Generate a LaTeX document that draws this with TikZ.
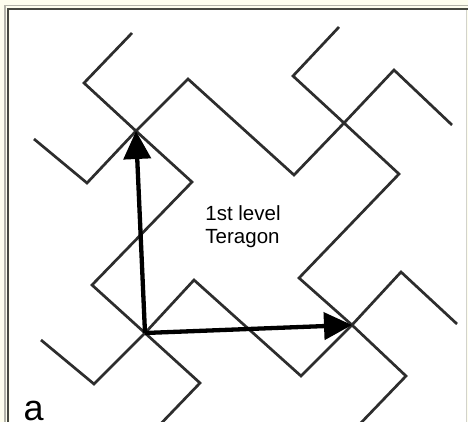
\documentclass[tikz,border=0pt]{standalone}
\usepackage{fontspec}
\setmainfont{Liberation Sans}
\usetikzlibrary{arrows.meta}
\definecolor{cream}{RGB}{254,254,238}
\definecolor{outerline}{RGB}{180,180,170}
\definecolor{innerline}{RGB}{70,72,64}
\definecolor{curve}{RGB}{45,45,45}
\tikzset{
  curveline/.style={draw=curve, line width=2.7pt, line join=miter},
  vecarrow/.style={line width=4.3pt, -{Triangle[length=28pt,width=27pt]}},
  lbl/.style={inner sep=0pt, anchor=base, font=\fontsize{20.5}{23}\selectfont},
}
\begin{document}
\begin{tikzpicture}[x=1pt,y=-1pt]
\useasboundingbox (0,0) rectangle (468,422);
% frame
\fill[cream] (0,0) rectangle (468,422);
\fill[white] (9.5,10) rectangle (465.5,422);
\draw[outerline, line width=1.4pt] (4.8,422) -- (4.8,5.6) -- (468,5.6);
\draw[innerline, line width=1.5pt] (8.2,422) -- (8.2,9.1) -- (468,9.1);
\draw[outerline!60, line width=0.8pt] (466,10) -- (466,422);
\begin{scope}
\clip (9.5,10) rectangle (465.5,422);
% lattice points
\coordinate (c1) at (136,131);
\coordinate (c2) at (344,123);
\coordinate (c3) at (145,333);
\coordinate (c4) at (352,325);
\coordinate (a1) at (132,33);
\coordinate (a2) at (84,83);
\coordinate (a3) at (192,182);
\coordinate (a4) at (92,285);
\coordinate (a5) at (200,383);
\coordinate (a6) at (150,435);
\coordinate (b1) at (34,139);
\coordinate (b2) at (87,183);
\coordinate (b3) at (188,79);
\coordinate (b4) at (294,175);
\coordinate (b5) at (394,70);
\coordinate (b6) at (452,125);
\coordinate (d1) at (339,27);
\coordinate (d2) at (293,76);
\coordinate (d3) at (399,174);
\coordinate (d4) at (299,278);
\coordinate (d5) at (406,376);
\coordinate (d6) at (356,428);
\coordinate (e1) at (41,340);
\coordinate (e2) at (94,384);
\coordinate (e3) at (194,280);
\coordinate (e4) at (301,376);
\coordinate (e5) at (401,272);
\coordinate (e6) at (457,324);
\draw[curveline] (a1) -- (a2) -- (c1) -- (a3) -- (a4) -- (c3) -- (a5) -- (a6);
\draw[curveline] (b1) -- (b2) -- (c1) -- (b3) -- (b4) -- (c2) -- (b5) -- (b6);
\draw[curveline] (d1) -- (d2) -- (c2) -- (d3) -- (d4) -- (c4) -- (d5) -- (d6);
\draw[curveline] (e1) -- (e2) -- (c3) -- (e3) -- (e4) -- (c4) -- (e5) -- (e6);
\end{scope}
% vectors
\draw[vecarrow] (c3) -- (c1);
\draw[vecarrow] (c3) -- (c4);
% labels
\node[lbl] (t1) at (243,220) {1st level};
\node[lbl] (t2) at (242.5,243) {Teragon};
\node[inner sep=0pt, anchor=base west, font=\fontsize{36}{40}\selectfont] (la) at (23.5,420) {a};
\end{tikzpicture}
\end{document}
